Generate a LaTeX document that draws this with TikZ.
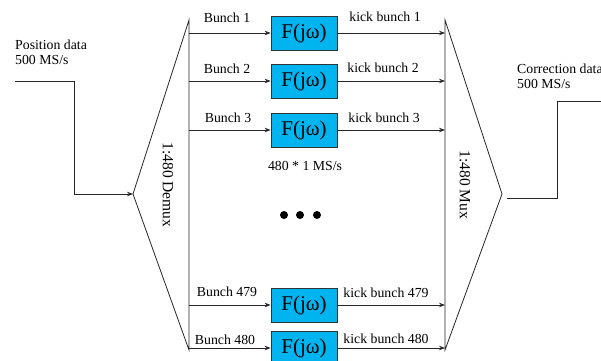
\documentclass[tikz,border=0pt]{standalone}
\usepackage{fontspec}
\setmainfont{Liberation Serif}
\usetikzlibrary{arrows.meta}
\definecolor{filtfill}{RGB}{0,180,240}
\begin{document}
\begin{tikzpicture}[x=1pt,y=-1pt,
  wire/.style={draw=black!85, line width=0.8pt},
  sig/.style={wire, -{Stealth[length=6pt,width=4.5pt]}},
  filt/.style={draw=black!80, line width=0.8pt, fill=filtfill,
    minimum width=66pt, minimum height=34pt, inner sep=0pt,
    font=\fontsize{21}{21}\selectfont},
  lbl/.style={font=\fontsize{13.8}{15}\selectfont, inner sep=0pt},
  vlbl/.style={font=\fontsize{15.5}{16}\selectfont, inner sep=0pt, rotate=-90},
  dot/.style={fill=black, circle, inner sep=0pt, minimum size=8pt}]
\useasboundingbox (0,0) rectangle (601,360);

% demultiplexer and multiplexer outlines
\coordinate (dmT) at (189,20);
\coordinate (dmB) at (189,350);
\coordinate (dmTip) at (133,194);
\coordinate (mxT) at (445,20);
\coordinate (mxB) at (445,350);
\coordinate (mxTip) at (502,194);
\draw[wire] (dmT) -- (dmB) -- (dmTip) -- cycle;
\draw[wire] (mxT) -- (mxB) -- (mxTip) -- cycle;
\node[vlbl] (dmlbl) at (168,185) {1:480 Demux};
\node[vlbl] (mxlbl) at (465,185) {1:480 Mux};

% input signal
\node[lbl, anchor=west, align=left] (inlbl) at (15,52) {Position data\\500 MS/s};
\coordinate (in0) at (15,81);
\coordinate (in1) at (74,81);
\coordinate (in2) at (74,194);
\draw[sig] (in0) -- (in1) -- (in2) -- (dmTip);

% output signal
\node[lbl, anchor=west, align=left] (outlbl) at (517,76) {Correction data\\500 MS/s};
\coordinate (out0) at (507,198);
\coordinate (out1) at (557,198);
\coordinate (out2) at (557,101);
\coordinate (out3) at (603,101);
\draw[wire] (out0) -- (out1) -- (out2) -- (out3);

% filter channels
\foreach \id/\y/\num/\bx/\by/\kx/\ky in {a/33/1/227/18/385/17, b/81/2/227/69/383/68, c/130/3/228/118/384/118, d/305/479/227/292/386/293, e/348/480/225/340/386/339} {
  \node[filt] (f\id) at (304,\y) {F(jω)};
  \coordinate (s\id) at (189,\y);
  \coordinate (t\id) at (445,\y);
  \draw[sig] (s\id) -- (f\id.west);
  \draw[sig] (f\id.east) -- (t\id);
  \node[lbl] (b\id) at (\bx,\by) {Bunch \num};
  \node[lbl] (k\id) at (\kx,\ky) {kick bunch \num};
}

\node[lbl] (rate) at (305,166) {480 * 1 MS/s};
\node[dot] (d1) at (284,215) {};
\node[dot] (d2) at (300,215) {};
\node[dot] (d3) at (317,215) {};
\end{tikzpicture}
\end{document}
